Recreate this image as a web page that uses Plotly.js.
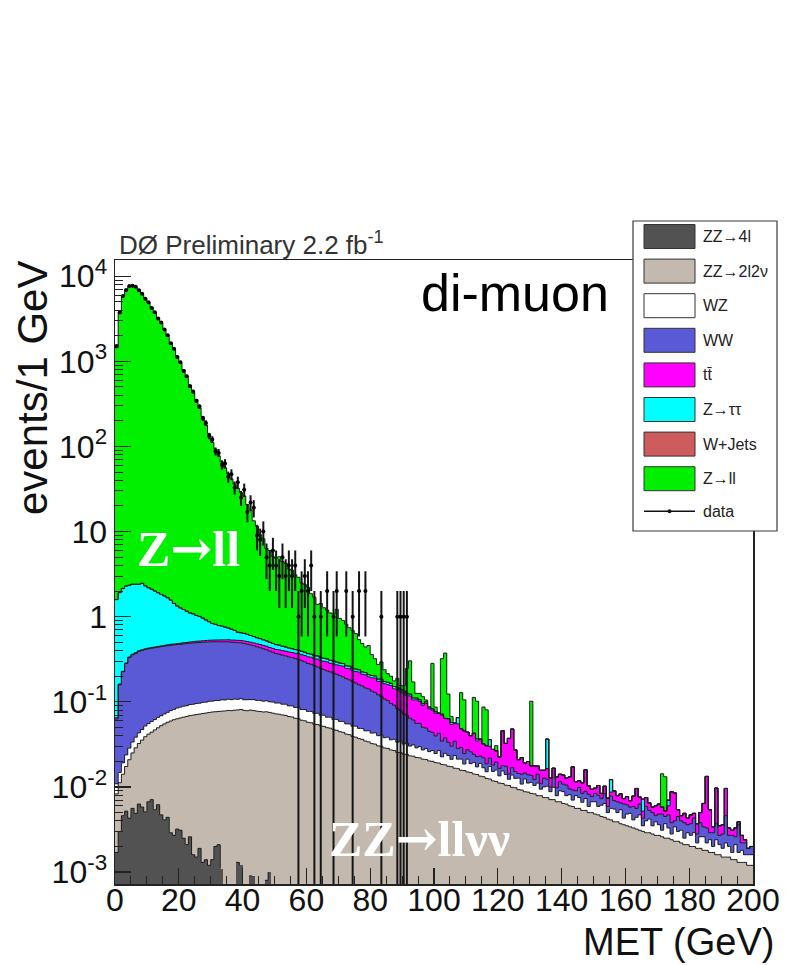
<!DOCTYPE html>
<html><head><meta charset="utf-8">
<script src="https://cdn.plot.ly/plotly-3.0.1.min.js"></script>
<style>html,body{margin:0;padding:0;background:#fff;} #chart{width:785px;height:965px;}</style>
</head><body><div id="chart"></div>
<script>
// ---------------- data (events per 1 GeV bin, bins 0-1, 1-2, ... GeV) ----------------
const N_BINS = 200;
const BIN_WIDTH = 1;

const seriesNames  = ['ZZ→4l','ZZ→2l2ν','WZ','WW','tt\u0304','Z→ττ','W+Jets','Z→ll'];
const seriesColors = ['#525252','#c3b9ae','#ffffff','#5a5ad6','#ff00ff','#00ffff','#cd5c5c','#00f000'];

const zz4l = [
0.0017,0.0030,0.0046,0.0052,0.0043,0.0056,0.0049,0.0063,0.0058,0.0051,
0.0067,0.0071,0.0054,0.0062,0.0047,0.0041,0.0044,0.0029,0.0027,0.0032,
0.0031,0.0025,0.0021,0.0026,0.0016,0.0015,0.0019,0.0013,0.0014,0.0012,
0.0014,0.0020,0.0021,0.0011,0,0,0,0,0.0013,0.0012,
0,0,0.0009,0.0009,0,0,0,0.0008,0.0010,0];

const zz2l2nu = [
0.0066,0.0082,0.0095,0.0122,0.0166,0.0195,0.0239,0.0261,0.0297,0.0338,
0.0350,0.0369,0.0414,0.0434,0.0478,0.0509,0.0531,0.0567,0.0590,0.0600,
0.0615,0.0635,0.0653,0.0662,0.0682,0.0693,0.0699,0.0715,0.0724,0.0736,
0.0745,0.0745,0.0750,0.0766,0.0781,0.0792,0.0788,0.0797,0.0790,0.0802,
0.0794,0.0786,0.0791,0.0780,0.0777,0.0769,0.0760,0.0755,0.0741,0.0736,
0.0722,0.0715,0.0701,0.0693,0.0672,0.0664,0.0641,0.0633,0.0608,0.0599,
0.0575,0.0568,0.0546,0.0541,0.0522,0.0515,0.0497,0.0490,0.0471,0.0463,
0.0446,0.0438,0.0418,0.0411,0.0392,0.0384,0.0370,0.0362,0.0346,0.0339,
0.0323,0.0319,0.0304,0.0300,0.0287,0.0284,0.0272,0.0268,0.0255,0.0253,
0.0243,0.0241,0.0232,0.0230,0.0222,0.0220,0.0212,0.0210,0.0202,0.0200,
0.0193,0.0191,0.0184,0.0182,0.0175,0.0173,0.0166,0.0164,0.0157,0.0156,
0.0150,0.0148,0.0142,0.0140,0.0134,0.0132,0.0126,0.0124,0.0118,0.0116,
0.0111,0.0110,0.0105,0.0104,0.0099,0.0098,0.0093,0.0092,0.0088,0.0087,
0.0084,0.0083,0.0079,0.0079,0.0075,0.0075,0.0071,0.0071,0.0067,0.0067,
0.0064,0.0063,0.0060,0.0059,0.0056,0.0056,0.0053,0.0053,0.0050,0.0050,
0.0048,0.0047,0.0045,0.0044,0.0042,0.0041,0.0039,0.0039,0.0037,0.0036,
0.0035,0.0034,0.0033,0.0032,0.0031,0.0030,0.0029,0.0029,0.0028,0.0027,
0.0027,0.0026,0.0025,0.0025,0.0024,0.0023,0.0023,0.0022,0.0021,0.0021,
0.0020,0.0020,0.0019,0.0019,0.0018,0.0018,0.0017,0.0017,0.0016,0.0016,
0.0015,0.0015,0.0015,0.0014,0.0014,0.0013,0.0013,0.0013,0.0012,0.0012];

const wz = [
0.0026,0.0036,0.0051,0.0064,0.0077,0.0086,0.0096,0.0108,0.0118,0.0131,
0.0139,0.0147,0.0150,0.0160,0.0162,0.0170,0.0177,0.0192,0.0197,0.0214,
0.0220,0.0229,0.0226,0.0241,0.0237,0.0248,0.0245,0.0257,0.0253,0.0264,
0.0259,0.0270,0.0265,0.0278,0.0271,0.0282,0.0272,0.0279,0.0267,0.0276,
0.0264,0.0273,0.0262,0.0272,0.0261,0.0269,0.0257,0.0265,0.0250,0.0258,
0.0245,0.0253,0.0236,0.0244,0.0225,0.0232,0.0216,0.0222,0.0204,0.0212,
0.0196,0.0202,0.0186,0.0192,0.0172,0.0180,0.0162,0.0169,0.0151,0.0158,
0.0142,0.0150,0.0133,0.0139,0.0125,0.0133,0.0117,0.0123,0.0110,0.0118,
0.0106,0.0113,0.0096,0.0107,0.0092,0.0100,0.0086,0.0095,0.0080,0.0091,
0.0076,0.0088,0.0070,0.0082,0.0066,0.0078,0.0060,0.0072,0.0058,0.0068,
0.0054,0.0076,0.0042,0.0066,0.0059,0.0038,0.0068,0.0048,0.0055,0.0030,
0.0062,0.0040,0.0052,0.0032,0.0055,0.0036,0.0025,0.0050,0.0034,0.0042,
0.0024,0.0044,0.0035,0.0019,0.0039,0.0028,0.0034,0.0016,0.0036,0.0024,
0.0029,0.0021,0.0032,0.0015,0.0025,0.0027,0.0017,0.0028,0.0012,0.0023,
0.0024,0.0016,0.0021,0.0011,0.0023,0.0019,0.0013,0.0020,0.0009,0.0017,
0.0019,0.0012,0.0016,0.0020,0.0008,0.0015,0.0016,0.0011,0.0017,0.0007,
0.0013,0.0015,0.0008,0.0012,0.0016,0.0005,0.0011,0.0013,0.0007,0.0012,
0.0009,0.0005,0.0012,0.0008,0.0004,0.0011,0.0007,0.0009,0.0004,0.0008,
0.0007,0.0009,0.0003,0.0007,0.0008,0.0004,0.0007,0.0003,0.0008,0.0005,
0.0004,0.0007,0.0005,0.0003,0.0007,0.0004,0.0005,0.0003,0.0004,0.0004];

const ww = [
0.052,0.144,0.206,0.258,0.303,0.323,0.334,0.349,0.355,0.360,
0.365,0.368,0.371,0.373,0.376,0.379,0.381,0.383,0.385,0.386,
0.387,0.390,0.392,0.395,0.398,0.400,0.401,0.402,0.404,0.405,
0.405,0.404,0.403,0.402,0.401,0.400,0.396,0.392,0.388,0.384,
0.379,0.369,0.359,0.349,0.339,0.329,0.318,0.306,0.294,0.283,
0.272,0.266,0.260,0.253,0.247,0.241,0.236,0.230,0.223,0.214,
0.205,0.199,0.192,0.184,0.177,0.170,0.165,0.159,0.154,0.149,
0.144,0.138,0.132,0.126,0.121,0.115,0.110,0.105,0.100,0.096,
0.091,0.086,0.081,0.075,0.070,0.065,0.060,0.055,0.050,0.045,
0.040,0.037,0.034,0.030,0.027,0.026,0.023,0.021,0.019,0.017,
0.015,0.016,0.012,0.013,0.010,0.009,0.011,0.007,0.008,0.006,
0.0062,0.0071,0.0048,0.0055,0.0041,0.0052,0.0036,0.0044,0.0029,0.0038,
0.0030,0.0024,0.0035,0.0019,0.0031,0.0026,0.0017,0.0033,0.0022,0.0028,
0.0024,0.0018,0.0030,0.0015,0.0027,0.0021,0.0012,0.0029,0.0019,0.0025,
0.0020,0.0026,0.0014,0.0022,0.0011,0.0024,0.0018,0.0016,0.0023,0.0010,
0.0017,0.0021,0.0012,0.0019,0.0009,0.0022,0.0014,0.0017,0.0011,0.0020,
0.0014,0.0009,0.0018,0.0012,0.0016,0.0008,0.0019,0.0011,0.0015,0.0007,
0.0012,0.0017,0.0008,0.0014,0.0010,0.0006,0.0015,0.0009,0.0013,0.0007,
0.0010,0.0014,0.0006,0.0012,0.0008,0.0011,0.0005,0.0009,0.0013,0.0006,
0.0009,0.0024,0.0007,0.0010,0.0005,0.0019,0.0004,0.0006,0.0003,0.0004];

const ttbar = [
0.002,0.003,0.003,0.004,0.004,0.005,0.005,0.006,0.006,0.007,
0.007,0.008,0.008,0.009,0.009,0.010,0.011,0.012,0.012,0.013,
0.014,0.015,0.016,0.017,0.018,0.019,0.020,0.021,0.022,0.023,
0.024,0.025,0.026,0.027,0.028,0.029,0.030,0.031,0.032,0.033,
0.034,0.035,0.036,0.037,0.038,0.039,0.040,0.041,0.041,0.042,
0.043,0.045,0.046,0.047,0.049,0.050,0.051,0.053,0.054,0.055,
0.056,0.058,0.054,0.061,0.057,0.060,0.064,0.059,0.063,0.061,
0.063,0.066,0.060,0.064,0.058,0.061,0.065,0.057,0.062,0.055,
0.058,0.061,0.053,0.059,0.055,0.056,0.060,0.051,0.057,0.053,
0.055,0.049,0.053,0.044,0.050,0.045,0.041,0.047,0.038,0.036,
0.034,0.031,0.035,0.026,0.030,0.024,0.022,0.027,0.019,0.021,
0.0166,0.0140,0.0185,0.0120,0.0135,0.0100,0.0118,0.0082,0.0095,0.0070,
0.0060,0.0280,0.0150,0.0230,0.0310,0.0120,0.0065,0.0080,0.0045,0.0060,
0.0040,0.0055,0.0035,0.0048,0.0030,0.0042,0.0028,0.0038,0.0033,0.0026,
0.0030,0.0022,0.0036,0.0080,0.0025,0.0019,0.0028,0.0070,0.0021,0.0017,
0.0013,0.0024,0.0011,0.0019,0.0015,0.0009,0.0021,0.0012,0.0018,0.0010,
0.0015,0.0011,0.0019,0.0040,0.0013,0.0009,0.0016,0.0012,0.0008,0.0014,
0.0015,0.0010,0.0007,0.0013,0.0050,0.0045,0.0009,0.0006,0.0011,0.0007,
0.0010,0.0006,0.0009,0.0012,0.0030,0.0100,0.0025,0.0005,0.0060,0.0008,
0.0008,0.0050,0.0006,0.0004,0.0007,0.0003,0.0005,0.0002,0,0];

const ztautau = [
1.52,1.75,1.91,2.00,2.00,2.04,2.02,2.00,2.05,1.88,
1.76,1.66,1.56,1.46,1.37,1.29,1.20,1.09,0.95,0.85,
0.78,0.72,0.66,0.60,0.57,0.52,0.49,0.44,0.39,0.345,
0.30,0.28,0.255,0.24,0.22,0.20,0.18,0.16,0.13,0.12,
0.118,0.11,0.10,0.092,0.085,0.08,0.075,0.07,0.065,0.06,
0.058,0.055,0.05,0.047,0.043,0.040,0.038,0.036,0.034,0.032,
0.030,0.029,0.028,0.027,0.026,0.025,0.024,0.023,0.022,0.021,
0.020,0.019,0.018,0.017,0.016,0.015,0.014,0.014,0.013,0.012,
0.012,0.011,0.011,0.010,0.010,0.010,0.009,0.009,0.008,0.008,
0.008,0.007,0.006,0.006,0.005,0.005,0.004,0.004,0.004,0.003,
0.003,0,0.002,0,0,0.003,0,0.010,0,0,
0,0,0,0.002,0,0,0,0.006,0,0,
0,0,0,0,0,0,0,0,0,0,
0,0,0,0,0,0.020,0,0,0,0,
0,0,0,0,0,0,0,0,0,0,
0,0,0,0,0,0.0035,0,0,0,0,
0,0,0,0,0,0.002,0,0,0,0,
0,0,0,0.001,0,0,0,0,0,0];

const wjets = [
0.010,0.012,0.012,0.011,0.011,0.010,0.010,0.009,0.009,0.008,
0.008,0.007,0.007,0.006,0.006,0.005,0.005,0.004,0.004,0.003,
0.003,0.003,0.002,0.002,0.002];

const zll = [
1443,3800,5752,6916,7584,7760,7411,6916,6164,5493,
4896,4264,3713,3234,2816,2397,1993,1658,1379,1147,
954,793,645,524,426,354,281,223,177,140,
111,92.5,76.8,65.3,55.4,47.1,40.9,35.5,31.6,28.1,
25.6,20.1,17.4,12.8,11.0,8.6,7.7,5.8,5.5,4.6,
4.4,4.6,4.0,3.8,3.2,3.1,2.7,2.5,2.1,2.0,
1.85,1.50,1.35,1.05,1.10,0.95,0.88,0.80,0.78,0.93,
0.67,0.62,0.55,0.48,0.44,0.39,0.30,0.26,0.22,0.25,
0.155,0.12,0.09,0.11,0.065,0.045,0.035,0.025,0.04,0.015,
0.02,0.12,0.18,0.06,0.015,0.02,0.02,0.005,0,0.2,
0.01,0,0.25,0.31,0.06,0.01,0,0,0.08,0.06,
0,0,0.07,0.065,0,0.055,0.05,0,0,0.004,
0,0,0,0,0,0,0,0,0,0,
0.084,0,0,0,0,0,0,0,0,0,
0,0,0,0,0,0,0,0,0,0,
0,0,0,0,0,0,0,0,0,0,
0,0,0,0,0,0,0,0,0,0,
0,0.0085,0.008];

// observed events per bin (bins with no entries are not drawn)
const dataCounts = [
1512,3745,5830,6861,7642,7701,7489,6850,6230,5441,
4952,4215,3770,3190,2861,2370,2030,1634,1402,1121,
978,771,668,509,441,343,295,214,189,133,
121,88,84,61,63,44,47,33,38,25,
31,17,22,19,9,8,10,5,4,6,
4,3,5,3,4,3,4,1,2,3,
2,4,1,0,1,0,2,0,1,2,
0,0,2,0,1,0,2,0,2,0,
0,0,0,1,0,0,0,0,1,1,
1,1];

// ---------------- build traces ----------------
const components = [zz4l, zz2l2nu, wz, ww, ttbar, ztautau, wjets, zll];
const edges = [];
for (let i = 0; i <= N_BINS; i++) edges.push(i * BIN_WIDTH);
const centers = edges.slice(0, -1).map(e => e + BIN_WIDTH / 2);

const cumulative = [];
let running = new Array(N_BINS).fill(0);
components.forEach(c => {
  running = running.map((v, i) => v + (c[i] || 0));
  cumulative.push(running.slice());
});
const pos = v => (v > 0 ? v : null);

const traces = [];
for (let k = components.length - 1; k >= 0; k--) {
  traces.push({
    type: 'bar', x: centers, y: cumulative[k].map(pos), width: BIN_WIDTH,
    marker: {color: seriesColors[k], line: {width: 0}},
    hoverinfo: 'skip', showlegend: false, name: seriesNames[k]
  });
}
for (let k = 0; k < components.length; k++) {
  const ys = cumulative[k].map(pos);
  ys.push(ys[ys.length - 1]);
  traces.push({
    type: 'scatter', mode: 'lines', x: edges, y: ys,
    line: {shape: 'hv', color: '#1e1e1e', width: 1},
    hoverinfo: 'skip', showlegend: false, connectgaps: false
  });
}
const dx = [], dy = [], de = [];
dataCounts.forEach((n, i) => { if (n > 0) { dx.push(centers[i]); dy.push(n); de.push(Math.sqrt(n)); } });
traces.push({
  type: 'scatter', mode: 'markers', x: dx, y: dy, name: 'data',
  marker: {color: '#000', size: 4},
  error_y: {type: 'data', array: de, arrayminus: de, width: 0, thickness: 2, color: '#151515'},
  error_x: {type: 'constant', value: BIN_WIDTH / 2, width: 0, thickness: 1.2, color: '#151515'},
  hoverinfo: 'skip', showlegend: false
});

// ---------------- layout ----------------
const M = {l: 115, r: 32, t: 260, b: 81};
const W = 785, H = 965;
const PW = W - M.l - M.r, PH = H - M.t - M.b;
const px = x => (x - M.l) / PW;
const py = y => (H - M.b - y) / PH;

const decades = [1e-3, 1e-2, 1e-1, 1, 10, 1e2, 1e3, 1e4];
const decadeText = ['10<sup>-3</sup>','10<sup>-2</sup>','10<sup>-1</sup>','1','10','10<sup>2</sup>','10<sup>3</sup>','10<sup>4</sup>'];
const minorVals = [];
decades.forEach(d => { for (let m = 2; m <= 9; m++) minorVals.push(m * d); });

const shapes = [];
const annotations = [];
const NARROW = '"Liberation Sans Narrow", "Arial Narrow", "Liberation Sans", Arial, sans-serif';
const SANS = '"Liberation Sans", Arial, Helvetica, sans-serif';
const SERIF = '"Liberation Serif", "Times New Roman", "DejaVu Serif", serif';
const ARROW = '<span style="font-family:\'DejaVu Serif\'">→</span>';

// legend box
shapes.push({type: 'rect', xref: 'paper', yref: 'paper', layer: 'above',
  x0: px(633), x1: px(777), y0: py(531), y1: py(221),
  fillcolor: '#ffffff', line: {color: '#3a3a3a', width: 1.2}});
const legTop = 236.5, legStep = 34.6;
for (let k = 0; k < seriesNames.length; k++) {
  const cy = legTop + k * legStep;
  shapes.push({type: 'rect', xref: 'paper', yref: 'paper', layer: 'above',
    x0: px(644), x1: px(695), y0: py(cy + 12), y1: py(cy - 12),
    fillcolor: seriesColors[k], line: {color: '#333', width: 1}});
  annotations.push({xref: 'paper', yref: 'paper', x: px(701), y: py(cy), xanchor: 'left', yanchor: 'middle',
    text: seriesNames[k], showarrow: false, font: {family: NARROW, size: 16, color: '#222'}});
}
const dataY = legTop + 8 * legStep - 2;
shapes.push({type: 'line', xref: 'paper', yref: 'paper', layer: 'above',
  x0: px(644), x1: px(695), y0: py(dataY), y1: py(dataY), line: {color: '#111', width: 1.5}});
shapes.push({type: 'circle', xref: 'paper', yref: 'paper', layer: 'above',
  x0: px(667.5), x1: px(671.5), y0: py(dataY + 2), y1: py(dataY - 2), fillcolor: '#111', line: {width: 0}});
annotations.push({xref: 'paper', yref: 'paper', x: px(701), y: py(dataY), xanchor: 'left', yanchor: 'middle',
  text: 'data', showarrow: false, font: {family: NARROW, size: 16, color: '#222'}});

// texts
annotations.push({xref: 'paper', yref: 'paper', x: px(117), y: py(243), xanchor: 'left', yanchor: 'middle',
  text: 'DØ Preliminary 2.2 fb<sup>-1</sup>', showarrow: false, font: {family: SANS, size: 26, color: '#333'}});
annotations.push({xref: 'paper', yref: 'paper', x: px(515), y: py(293), xanchor: 'center', yanchor: 'middle',
  text: 'di-muon', showarrow: false, font: {family: SANS, size: 52, color: '#000'}});
annotations.push({xref: 'paper', yref: 'paper', x: px(188), y: py(548), xanchor: 'center', yanchor: 'middle',
  text: '<b>Z' + ARROW + 'll</b>', showarrow: false, font: {family: SERIF, size: 50, color: '#ffffff'}});
annotations.push({xref: 'paper', yref: 'paper', x: px(419), y: py(838), xanchor: 'center', yanchor: 'middle',
  text: '<b>ZZ' + ARROW + 'llνν</b>', showarrow: false, font: {family: SERIF, size: 50, color: '#ffffff'}});
annotations.push({xref: 'paper', yref: 'paper', x: px(32), y: py(388), xanchor: 'center', yanchor: 'middle',
  text: 'events/1 GeV', textangle: -90, showarrow: false, font: {family: SANS, size: 42, color: '#111'}});
annotations.push({xref: 'paper', yref: 'paper', x: px(776), y: py(942), xanchor: 'right', yanchor: 'middle',
  text: 'MET (GeV)', showarrow: false, font: {family: SANS, size: 38, color: '#111'}});

const layout = {
  width: W, height: H, margin: {l: M.l, r: M.r, t: M.t, b: M.b, pad: 0},
  paper_bgcolor: '#ffffff', plot_bgcolor: '#ffffff',
  barmode: 'overlay', bargap: 0, showlegend: false,
  font: {family: SANS, color: '#111'},
  xaxis: {
    range: [0, 200], tickmode: 'linear', tick0: 0, dtick: 20,
    ticks: 'inside', ticklen: 16, tickwidth: 1.2, tickcolor: '#222',
    ticklabelstandoff: -13,
    minor: {ticks: 'inside', ticklen: 8, tickmode: 'linear', tick0: 0, dtick: 5, tickwidth: 1, tickcolor: '#222', showgrid: false},
    showline: true, linecolor: '#222', linewidth: 1.5, mirror: true,
    showgrid: false, zeroline: false,
    tickfont: {family: SANS, size: 32, color: '#111'}
  },
  yaxis: {
    type: 'log', range: [-3.14, 4.19],
    tickmode: 'array', tickvals: decades, ticktext: decadeText,
    ticks: 'inside', ticklen: 16, tickwidth: 1.2, tickcolor: '#222',
    minor: {ticks: 'inside', ticklen: 8, tickmode: 'array', tickvals: minorVals, tickwidth: 1, tickcolor: '#222', showgrid: false},
    showline: true, linecolor: '#222', linewidth: 1.5, mirror: true,
    showgrid: false, zeroline: false,
    tickfont: {family: SANS, size: 32, color: '#111'}
  },
  shapes: shapes,
  annotations: annotations
};

Plotly.newPlot('chart', traces, layout, {displayModeBar: false, staticPlot: true});
</script>
</body></html>
